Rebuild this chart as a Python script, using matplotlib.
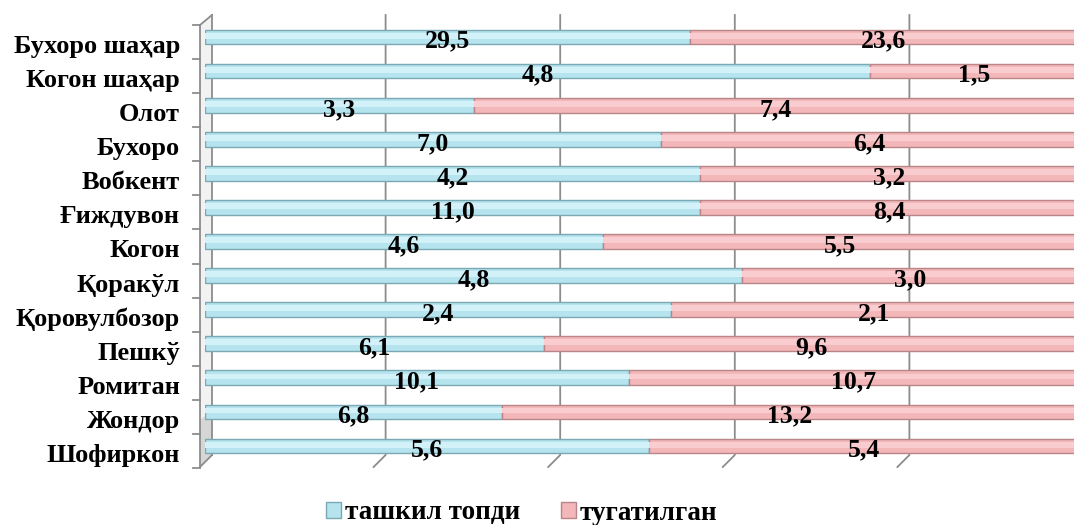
import matplotlib
matplotlib.use("Agg")
import matplotlib.pyplot as plt
from matplotlib.lines import Line2D
from matplotlib.patches import Patch, Polygon
from matplotlib.transforms import ScaledTranslation
import numpy as np

categories = ['Бухоро шаҳар', 'Когон шаҳар', 'Олот', 'Бухоро', 'Вобкент', 'Ғиждувон',
              'Когон', 'Қоракўл', 'Қоровулбозор', 'Пешкў', 'Ромитан', 'Жондор', 'Шофиркон']
organized = [29.5, 4.8, 3.3, 7.0, 4.2, 11.0, 4.6, 4.8, 2.4, 6.1, 10.1, 6.8, 5.6]
closed = [23.6, 1.5, 7.4, 6.4, 3.2, 8.4, 5.5, 3.0, 2.1, 9.6, 10.7, 13.2, 5.4]
series_names = ['ташкил топди', 'тугатилган']

W, H = 1074, 525
plt.rcParams['font.family'] = ['Liberation Serif', 'DejaVu Serif']
plt.rcParams['font.weight'] = 'bold'
FS = 18.5
FS_CAT = 19
FS_LEG = 19.5

fig = plt.figure(figsize=(W / 100, H / 100), dpi=100)

ax_left, ax_right, ax_top, ax_bot = 205, 1078, 20, 463
ax = fig.add_axes([ax_left / W, 1 - ax_bot / H, (ax_right - ax_left) / W, (ax_bot - ax_top) / H])
ax.set_xlim(0, 1)
n = len(categories)
ax.set_ylim(n - 0.5, -0.5)

org = np.array(organized)
clo = np.array(closed)
tot = org + clo
f_org = org / tot
f_clo = clo / tot
y = np.arange(n)

blue, blue_edge, blue_hi = '#b5e3ee', '#7aa9b4', '#d3f1f8'
pink, pink_edge, pink_hi = '#f3b6b9', '#b98587', '#f9cdd0'
bh = 0.43

ax.barh(y, f_org, height=bh, color=blue, edgecolor=blue_edge, linewidth=1.0, zorder=3)
ax.barh(y, f_clo, left=f_org, height=bh, color=pink, edgecolor=pink_edge, linewidth=1.0, zorder=3)
# highlight stripe for cylinder look
ax.barh(y - 0.04, f_org, height=bh * 0.4, color=blue_hi, linewidth=0, zorder=4)
ax.barh(y - 0.04, f_clo, left=f_org, height=bh * 0.4, color=pink_hi, linewidth=0, zorder=4)

for i in range(n):
    ax.annotate(f"{organized[i]:.1f}".replace('.', ','), (f_org[i] / 2, y[i]),
                xytext=(0, -3), textcoords='offset points', ha='center', va='center',
                fontsize=FS, fontweight='bold', zorder=6)
    ax.annotate(f"{closed[i]:.1f}".replace('.', ','), (f_org[i] + f_clo[i] / 2, y[i]),
                xytext=(0, -3), textcoords='offset points', ha='center', va='center',
                fontsize=FS, fontweight='bold', zorder=6)

ax.set_yticks(y)
ax.set_yticklabels(categories, fontsize=FS_CAT, fontweight='bold')
ax.tick_params(axis='y', length=0, pad=18)
shift = ScaledTranslation(0, -5 / 72, fig.dpi_scale_trans)
for lab in ax.get_yticklabels():
    lab.set_transform(lab.get_transform() + shift)
ax.set_xticks([])
for s in ax.spines.values():
    s.set_visible(False)
ax.patch.set_alpha(0)


def P(px, py):
    return (px / W, 1 - py / H)


gc = '#8c8c8c'
# gridlines on back wall with slanted floor ends
for f in [0.2, 0.4, 0.6, 0.8]:
    gx = ax_left + f * (ax_right - ax_left) + 6
    xs, ys = zip(P(gx, 15), P(gx, 455), P(gx - 12, 467))
    fig.add_artist(Line2D(xs, ys, color=gc, lw=1.3, zorder=0))

# left wall
wall = Polygon([P(200, 25), P(212, 15), P(212, 455), P(200, 467)], closed=True,
               facecolor='#f2f2f2', edgecolor='none', zorder=0)
fig.add_artist(wall)
shade = Polygon([P(200, 420), P(212, 410), P(212, 455), P(200, 467)], closed=True,
                facecolor='#d6d6d6', edgecolor='none', zorder=0)
fig.add_artist(shade)
for seg in [[P(200, 25), P(200, 467)], [P(212, 15), P(212, 455)], [P(200, 25), P(212, 15)],
            [P(200, 467), P(212, 455)]]:
    xs, ys = zip(*seg)
    fig.add_artist(Line2D(xs, ys, color=gc, lw=1.3, zorder=0))
# category boundary ticks
step = (ax_bot - ax_top) / n
for k in range(n + 1):
    ty = ax_top + k * step + 5
    xs, ys = zip(P(193, ty), P(200, ty))
    fig.add_artist(Line2D(xs, ys, color=gc, lw=1.3, zorder=0))

handles = [Patch(facecolor=blue, edgecolor=blue_edge), Patch(facecolor=pink, edgecolor=pink_edge)]
fig.legend(handles, series_names, loc='center', bbox_to_anchor=(522 / W, 1 - 513 / H), ncol=2,
           frameon=False, prop={'size': FS_LEG, 'weight': 'bold'}, handlelength=0.55, handleheight=0.55,
           handletextpad=0.15, columnspacing=1.5)

fig.savefig('out.png', dpi=100)
